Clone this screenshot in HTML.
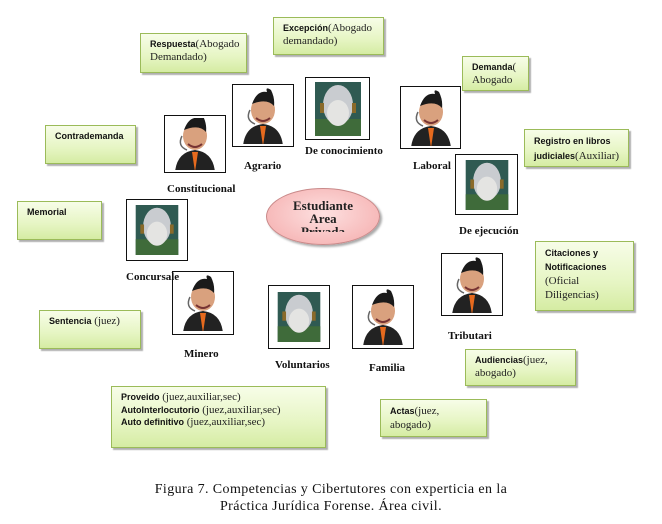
<!DOCTYPE html>
<html><head><meta charset="utf-8"><style>
body{margin:0;width:662px;height:524px;background:#fff;position:relative;overflow:hidden;font-family:"Liberation Serif",serif}
.g{position:absolute;box-sizing:border-box;border:1px solid #9bbb59;background:linear-gradient(180deg,#f7fde8 0%,#e6f5c3 60%,#d5eca3 100%);box-shadow:2px 2px 1px #b0b0b0;padding:4px 0 0 9px;font-size:11px;line-height:13px;color:#222}
.g b{font-family:"Liberation Sans",sans-serif;font-size:9px;font-weight:bold;color:#111}
.p{position:absolute;box-sizing:border-box;border:1px solid #111;background:#fff}
.p svg{position:absolute;left:50%;top:50%;transform:translate(-50%,-50%)}
.l{position:absolute;font-weight:bold;font-size:11px;color:#111;white-space:nowrap}
.cap{position:absolute;left:0;width:662px;text-align:center;font-size:14px;letter-spacing:0.4px;color:#111;line-height:17px}
</style></head><body>

<div class="g" style="left:140px;top:33px;width:107px;height:40px"><b>Respuesta</b>(Abogado Demandado)</div>
<div class="g" style="left:273px;top:17px;width:111px;height:38px"><b>Excepción</b>(Abogado demandado)</div>
<div class="g" style="left:462px;top:56px;width:67px;height:35px"><b>Demanda</b>( Abogado</div>
<div class="g" style="left:45px;top:125px;width:91px;height:39px"><b>Contrademanda</b></div>
<div class="g" style="left:524px;top:129px;width:105px;height:38px;line-height:15px"><b>Registro en libros judiciales</b>(Auxiliar)</div>
<div class="g" style="left:17px;top:201px;width:85px;height:39px"><b>Memorial</b></div>
<div class="g" style="left:535px;top:241px;width:99px;height:70px;line-height:14px"><b>Citaciones y<br>Notificaciones</b><br>(Oficial<br>Diligencias)</div>
<div class="g" style="left:39px;top:310px;width:102px;height:39px"><b>Sentencia</b> (juez)</div>
<div class="g" style="left:111px;top:386px;width:215px;height:62px;line-height:12.5px"><b>Proveido</b> (juez,auxiliar,sec)<br><b>AutoInterlocutorio</b> (juez,auxiliar,sec)<br><b>Auto definitivo</b> (juez,auxiliar,sec)</div>
<div class="g" style="left:465px;top:349px;width:111px;height:37px"><b>Audiencias</b>(juez,<br>abogado)</div>
<div class="g" style="left:380px;top:399px;width:107px;height:38px;line-height:14px"><b>Actas</b>(juez,<br>abogado)</div>

<svg width="0" height="0" style="position:absolute">
<defs>
<g id="man">
<path d="M-20 30 Q-18 10 0 8 Q18 10 20 30 Z" fill="#222"/>
<path d="M-3 10 L0 30 L3 10 Z" fill="#e66a1e"/>
<ellipse cx="0" cy="-6" rx="12" ry="14" fill="#d9a17e"/>
<path d="M-11 -12 Q-6 -26 4 -24 Q2 -30 8 -26 Q12 -18 11 -10 Q4 -18 -11 -12Z" fill="#1a1a1a"/>
<path d="M-7 2 Q0 8 7 2" stroke="#733" stroke-width="2" fill="none"/>
<path d="M-13 -6 Q-18 4 -8 8" stroke="#666" stroke-width="1.5" fill="none"/>
</g>
<g id="bot">
<rect x="-23" y="-27" width="46" height="54" fill="#2f5a52"/>
<rect x="-23" y="10" width="46" height="17" fill="#3f6b3a"/>
<ellipse cx="0" cy="-4" rx="15" ry="20" fill="#c9ccd0"/>
<ellipse cx="0" cy="4" rx="11" ry="13" fill="#e4e4e2"/>
<rect x="-18" y="-6" width="4" height="10" fill="#8a6a2a"/>
<rect x="14" y="-6" width="4" height="10" fill="#8a6a2a"/>
</g>
</defs></svg>

<div class="p" style="left:232px;top:84px;width:62px;height:63px"><svg width="50" height="56" viewBox="-25 -28 50 56"><use href="#man"/></svg></div>
<div class="p" style="left:305px;top:77px;width:65px;height:63px"><svg width="46" height="54" viewBox="-23 -27 46 54"><use href="#bot"/></svg></div>
<div class="p" style="left:164px;top:115px;width:62px;height:58px"><svg width="50" height="52" viewBox="-25 -24 50 52"><use href="#man"/></svg></div>
<div class="p" style="left:400px;top:86px;width:61px;height:63px"><svg width="50" height="56" viewBox="-25 -28 50 56"><use href="#man"/></svg></div>
<div class="p" style="left:455px;top:154px;width:63px;height:61px"><svg width="44" height="50" viewBox="-23 -27 46 54"><use href="#bot"/></svg></div>
<div class="p" style="left:126px;top:199px;width:62px;height:62px"><svg width="44" height="50" viewBox="-23 -27 46 54"><use href="#bot"/></svg></div>
<div class="p" style="left:172px;top:271px;width:62px;height:64px"><svg width="50" height="56" viewBox="-25 -28 50 56"><use href="#man"/></svg></div>
<div class="p" style="left:268px;top:285px;width:62px;height:64px"><svg width="44" height="50" viewBox="-23 -27 46 54"><use href="#bot"/></svg></div>
<div class="p" style="left:352px;top:285px;width:62px;height:64px"><svg width="50" height="56" viewBox="-25 -28 50 56"><use href="#man"/></svg></div>
<div class="p" style="left:441px;top:253px;width:62px;height:63px"><svg width="50" height="56" viewBox="-25 -28 50 56"><use href="#man"/></svg></div>

<div class="l" style="left:244px;top:160px">Agrario</div>
<div class="l" style="left:305px;top:145px">De conocimiento</div>
<div class="l" style="left:167px;top:183px">Constitucional</div>
<div class="l" style="left:413px;top:160px">Laboral</div>
<div class="l" style="left:459px;top:225px">De ejecución</div>
<div class="l" style="left:126px;top:271px">Concursale</div>
<div class="l" style="left:184px;top:348px">Minero</div>
<div class="l" style="left:275px;top:359px">Voluntarios</div>
<div class="l" style="left:369px;top:362px">Familia</div>
<div class="l" style="left:448px;top:330px">Tributari</div>

<div style="position:absolute;left:266px;top:188px;width:114px;height:57px;box-sizing:border-box;border:1px solid #c98a8a;border-radius:50%;background:radial-gradient(ellipse at 50% 45%,#fde0e0,#f4aaaa);box-shadow:2px 2px 2px #aaa;overflow:hidden;text-align:center;font-weight:bold;font-size:13px;line-height:13px;padding-top:10px;color:#222"><div style="height:33px;overflow:hidden">Estudiante<br>Area<br>Privada</div></div>

<div class="cap" style="top:481px">Figura 7. Competencias y Cibertutores con experticia en la<br>Práctica Jurídica Forense. Área civil.</div>
</body></html>
